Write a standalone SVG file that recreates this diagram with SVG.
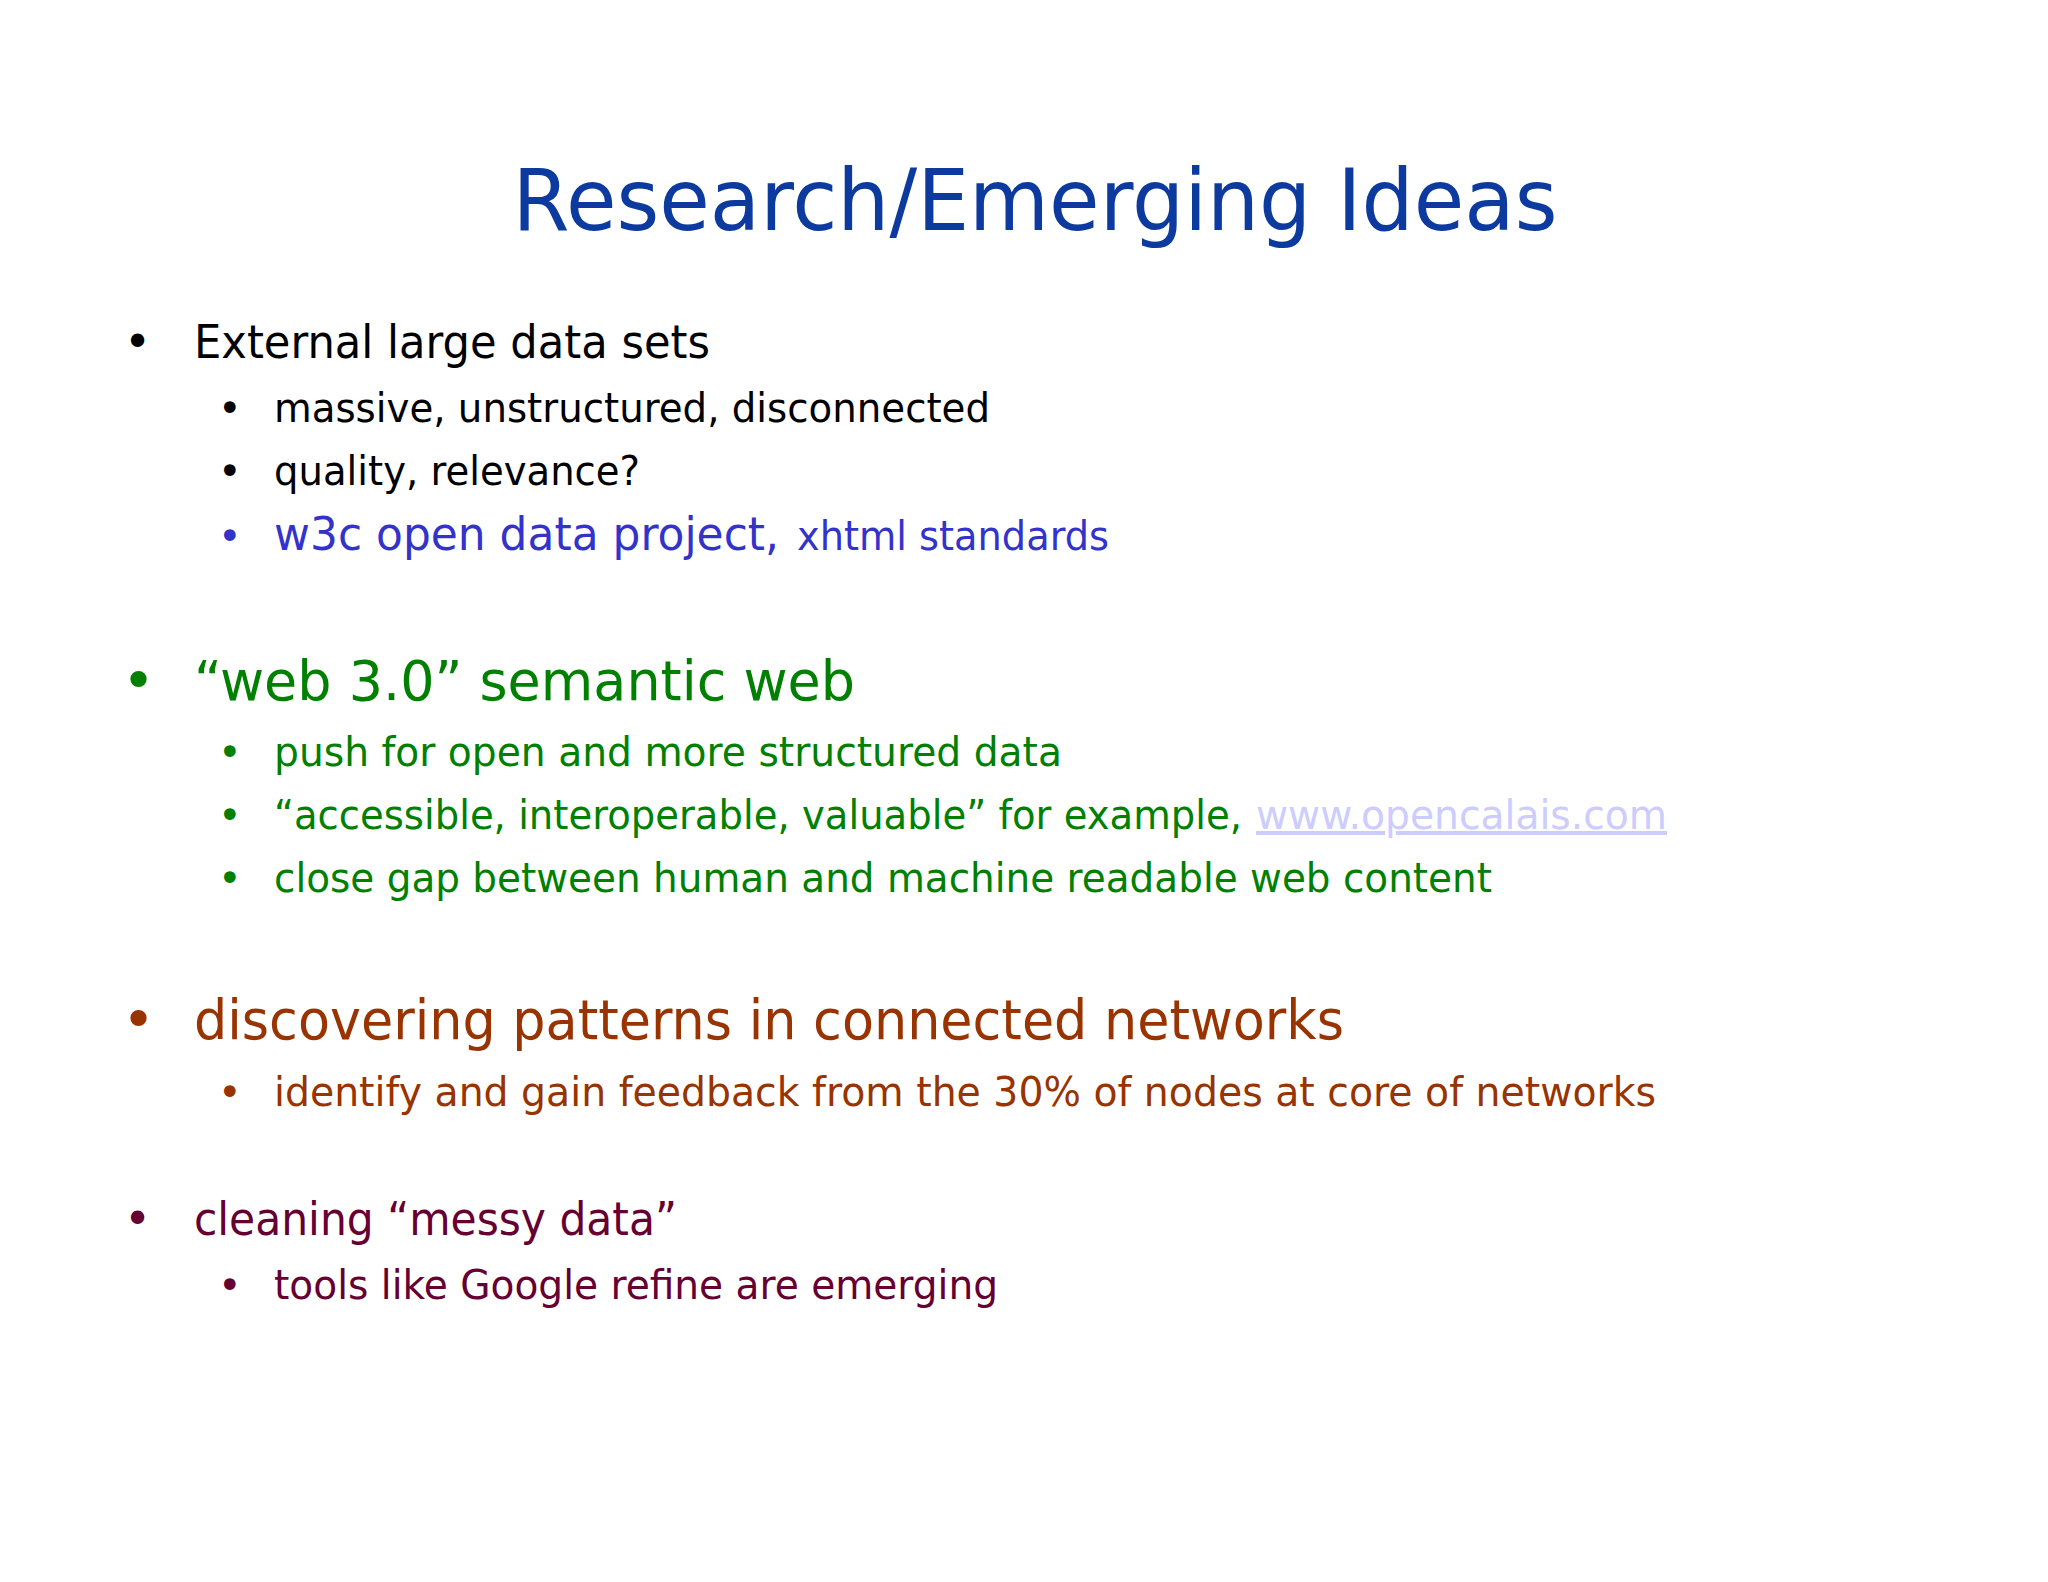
<svg xmlns="http://www.w3.org/2000/svg" width="2048" height="1582" viewBox="0 0 2048 1582">
<style>
text{font-family:"DejaVu Sans","Noto Sans",sans-serif}
.t{fill:#0d3a9e;font-size:86px}
.k{fill:#000}.b{fill:#3333cc}.g{fill:#008000}.r{fill:#993300}.m{fill:#660033}
.l1{font-size:46px}.l2{font-size:40px}.big{font-size:56px}
.lnk{fill:#ccccff}
</style>
<rect width="2048" height="1582" fill="#fff"/>
<g id="title"><text class="t" x="1035" y="230" text-anchor="middle" textLength="1045" lengthAdjust="spacingAndGlyphs">Research/Emerging Ideas</text></g>
<g id="b1">
<text class="k l1" x="124" y="358">•</text>
<text class="k l1" x="194" y="358" textLength="516" lengthAdjust="spacingAndGlyphs">External large data sets</text>
<text class="k l2" x="218" y="422">•</text>
<text class="k l2" x="274" y="422" textLength="716" lengthAdjust="spacingAndGlyphs">massive, unstructured, disconnected</text>
<text class="k l2" x="218" y="485">•</text>
<text class="k l2" x="274" y="485" textLength="366" lengthAdjust="spacingAndGlyphs">quality, relevance?</text>
<text class="b l2" x="218" y="550">•</text>
<text class="b l1" x="274" y="550" textLength="505" lengthAdjust="spacingAndGlyphs">w3c open data project,</text>
<text class="b l2" x="797" y="550" textLength="312" lengthAdjust="spacingAndGlyphs">xhtml standards</text>
</g>
<g id="b2">
<text class="g big" x="122" y="700">•</text>
<text class="g big" x="194" y="700" textLength="661" lengthAdjust="spacingAndGlyphs">“web 3.0”  semantic web</text>
<text class="g l2" x="218" y="766">•</text>
<text class="g l2" x="274" y="766" textLength="788" lengthAdjust="spacingAndGlyphs">push for open and more structured data</text>
<text class="g l2" x="218" y="829">•</text>
<text class="g l2" x="274" y="829" textLength="968" lengthAdjust="spacingAndGlyphs">“accessible, interoperable, valuable” for example,</text>
<text class="lnk l2" x="1256" y="829" textLength="411" lengthAdjust="spacingAndGlyphs" text-decoration="underline">www.opencalais.com</text>
<text class="g l2" x="218" y="892">•</text>
<text class="g l2" x="274" y="892" textLength="1218" lengthAdjust="spacingAndGlyphs">close gap between human and machine readable web content</text>
</g>
<g id="b3">
<text class="r big" x="122" y="1039">•</text>
<text class="r big" x="194" y="1039" textLength="1150" lengthAdjust="spacingAndGlyphs">discovering patterns in connected networks</text>
<text class="r l2" x="218" y="1106">•</text>
<text class="r l2" x="274" y="1106" textLength="1382" lengthAdjust="spacingAndGlyphs">identify and gain feedback from the 30% of nodes at core of networks</text>
</g>
<g id="b4">
<text class="m l1" x="124" y="1235">•</text>
<text class="m l1" x="194" y="1235" textLength="483" lengthAdjust="spacingAndGlyphs">cleaning “messy data”</text>
<text class="m l2" x="218" y="1299">•</text>
<text class="m l2" x="274" y="1299" textLength="724" lengthAdjust="spacingAndGlyphs">tools like Google refine are emerging</text>
</g>
</svg>
